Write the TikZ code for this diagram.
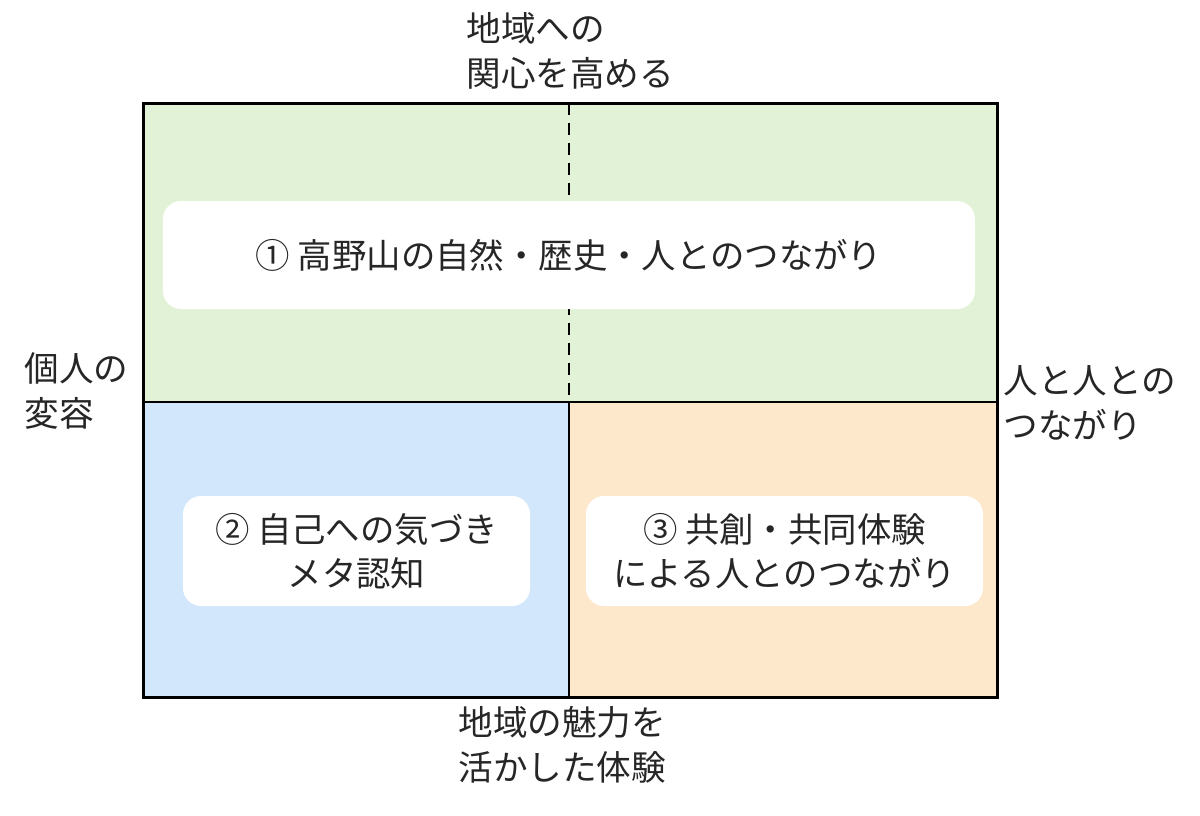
\documentclass[tikz,border=0pt]{standalone}
\usepackage{fontspec}
\newfontfamily\jpfont{Noto Sans CJK JP}
\usetikzlibrary{positioning}

\definecolor{quadgreen}{HTML}{E2F2D6}
\definecolor{quadblue}{HTML}{D2E7FB}
\definecolor{quadorange}{HTML}{FDE8CB}

\begin{document}
\begin{tikzpicture}[
    x=0.5pt, y=-0.5pt,
    axislabel/.style={inner sep=0pt, align=left, font=\jpfont\fontsize{17.3}{22.5}\selectfont, text=black!85},
    themebox/.style={fill=white, rounded corners=9pt, inner sep=0pt, align=center, font=\jpfont\fontsize{17.2}{22}\selectfont, text=black!85},
    frame/.style={line width=1.5pt},
    divider/.style={line width=1pt}
]
    \useasboundingbox (0,0) rectangle (1200,815);

    % corners of the frame
    \coordinate (tl) at (143,103);
    \coordinate (br) at (997,697);
    \coordinate (ml) at (143,402);
    \coordinate (mr) at (997,402);
    \coordinate (mt) at (569,103);
    \coordinate (mc) at (569,402);
    \coordinate (mb) at (569,697);

    % quadrants
    \fill[quadgreen] (tl) rectangle (mr);
    \fill[quadblue] (ml) rectangle (mb);
    \fill[quadorange] (mc) rectangle (br);

    \draw[divider, line width=1.4pt, dash pattern=on 6pt off 4pt] (mt) -- (mc);
    \draw[divider] (ml) -- (mr);
    \draw[divider] (mc) -- (mb);
    \draw[frame] (tl) rectangle (br);

    % theme boxes
    \node[themebox, minimum width=406, minimum height=54] (t1) at (569,255) {① 高野山の自然・歴史・人とのつながり};
    \node[themebox, minimum width=173.5, minimum height=55] (t2) at (356.5,551) {② 自己への気づき\\メタ認知};
    \node[themebox, minimum width=198.5, minimum height=55] (t3) at (784.5,551) {③ 共創・共同体験\\による人とのつながり};

    % axis labels
    \node[axislabel, anchor=west] (top) at (466,51) {地域への\\関心を高める};
    \node[axislabel, anchor=west] (left) at (24,391) {個人の\\変容};
    \node[axislabel, anchor=west] (right) at (1003,403) {人と人との\\つながり};
    \node[axislabel, anchor=west] (bottom) at (458,745) {地域の魅力を\\活かした体験};

\end{tikzpicture}
\end{document}
